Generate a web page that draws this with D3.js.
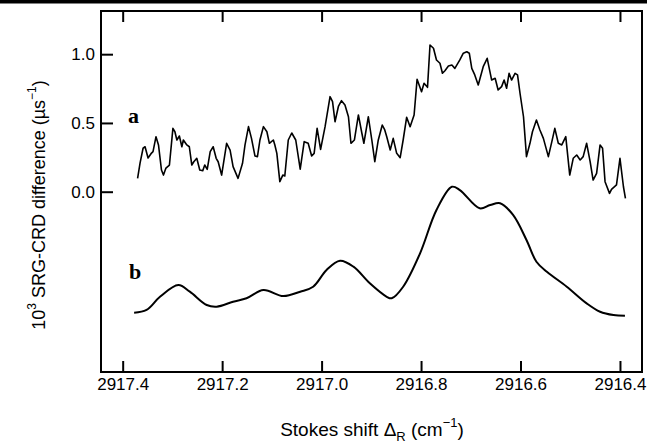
<!DOCTYPE html>
<html><head><meta charset="utf-8">
<script src="https://cdn.jsdelivr.net/npm/d3@7"></script>
<style>body{margin:0;background:#fff}svg{display:block}</style>
</head><body><svg id="c" width="660" height="444"></svg>
<script>
// Trace a (noisy SRG-CRD difference)
const aX = [2917.370,2917.365,2917.359,2917.355,2917.349,2917.342,2917.339,2917.333,2917.328,2917.322,2917.318,2917.313,2917.306,2917.299,2917.295,2917.291,2917.286,2917.281,2917.278,2917.271,2917.266,2917.261,2917.257,2917.251,2917.245,2917.239,2917.235,2917.230,2917.224,2917.218,2917.212,2917.208,2917.201,2917.191,2917.184,2917.178,2917.168,2917.159,2917.154,2917.147,2917.141,2917.134,2917.129,2917.124,2917.117,2917.110,2917.105,2917.097,2917.094,2917.090,2917.084,2917.078,2917.074,2917.067,2917.060,2917.052,2917.043,2917.035,2917.027,2917.020,2917.015,2917.009,2917.002,2916.993,2916.983,2916.978,2916.973,2916.966,2916.960,2916.953,2916.946,2916.941,2916.934,2916.926,2916.919,2916.915,2916.906,2916.899,2916.893,2916.886,2916.878,2916.873,2916.869,2916.862,2916.856,2916.849,2916.842,2916.836,2916.829,2916.822,2916.814,2916.808,2916.799,2916.794,2916.787,2916.782,2916.775,2916.769,2916.762,2916.757,2916.752,2916.745,2916.738,2916.732,2916.722,2916.715,2916.708,2916.703,2916.698,2916.692,2916.685,2916.675,2916.667,2916.658,2916.651,2916.645,2916.638,2916.633,2916.628,2916.623,2916.618,2916.611,2916.606,2916.601,2916.594,2916.588,2916.581,2916.576,2916.568,2916.561,2916.554,2916.544,2916.537,2916.531,2916.524,2916.517,2916.509,2916.501,2916.494,2916.487,2916.480,2916.474,2916.467,2916.460,2916.454,2916.447,2916.440,2916.435,2916.430,2916.421,2916.417,2916.407,2916.400,2916.393,2916.389];
const aY = [0.097,0.209,0.316,0.327,0.245,0.281,0.291,0.400,0.340,0.158,0.121,0.172,0.194,0.461,0.436,0.376,0.405,0.327,0.376,0.340,0.327,0.194,0.218,0.243,0.158,0.153,0.194,0.163,0.291,0.327,0.243,0.218,0.121,0.352,0.303,0.182,0.097,0.207,0.340,0.473,0.388,0.260,0.255,0.376,0.473,0.436,0.352,0.376,0.340,0.279,0.073,0.121,0.114,0.376,0.427,0.376,0.164,0.364,0.352,0.260,0.279,0.461,0.308,0.473,0.691,0.655,0.509,0.623,0.662,0.631,0.545,0.352,0.376,0.558,0.425,0.352,0.545,0.376,0.218,0.376,0.485,0.449,0.400,0.303,0.388,0.279,0.247,0.376,0.541,0.473,0.558,0.817,0.727,0.788,0.759,1.067,1.043,0.958,0.934,0.861,0.880,0.914,0.921,0.897,0.958,1.007,1.018,1.007,0.897,0.849,0.776,0.909,0.970,0.812,0.825,0.740,0.764,0.812,0.752,0.861,0.812,0.861,0.849,0.716,0.545,0.255,0.352,0.436,0.521,0.449,0.388,0.255,0.364,0.461,0.352,0.340,0.400,0.121,0.243,0.267,0.231,0.255,0.352,0.218,0.085,0.134,0.340,0.316,0.073,-0.012,0.017,0.049,0.243,0.036,-0.048];
// Trace b (smooth, offset)
const bX = [2917.377,2917.352,2917.325,2917.288,2917.265,2917.231,2917.211,2917.178,2917.151,2917.117,2917.077,2917.043,2917.017,2916.990,2916.963,2916.936,2916.903,2916.869,2916.859,2916.836,2916.802,2916.769,2916.738,2916.722,2916.682,2916.661,2916.641,2916.615,2916.588,2916.568,2916.547,2916.507,2916.467,2916.440,2916.413,2916.390];
const bY = [-0.880,-0.860,-0.764,-0.679,-0.727,-0.824,-0.836,-0.800,-0.775,-0.715,-0.759,-0.727,-0.691,-0.569,-0.502,-0.545,-0.666,-0.764,-0.775,-0.691,-0.448,-0.133,0.036,0.012,-0.121,-0.097,-0.084,-0.169,-0.351,-0.509,-0.582,-0.691,-0.812,-0.873,-0.897,-0.902];
const xTicks = [2917.4,2917.2,2917.0,2916.8,2916.6,2916.4];
const yTicks = [0.0,0.5,1.0];
const xDomain = [2917.4436,2916.3557];
const yDomain = [-1.311,1.314];

const svg = d3.select("#c");
const L=101,R=642,T=11,B=372;
const x = d3.scaleLinear().domain(xDomain).range([L,R]);
const y = d3.scaleLinear().domain(yDomain).range([B,T]);
const font = "'Liberation Sans', Arial, Helvetica, sans-serif";

svg.append("rect").attr("x",0).attr("y",0).attr("width",647).attr("height",3.5).attr("fill","#000");

const gBottom = svg.append("g").attr("transform",`translate(0,${B})`)
  .call(d3.axisBottom(x).tickValues(xTicks).tickFormat(d3.format(".1f")).tickSizeInner(-11).tickSizeOuter(0).tickPadding(6));
const gTop = svg.append("g").attr("transform",`translate(0,${T})`)
  .call(d3.axisTop(x).tickValues(xTicks).tickFormat("").tickSizeInner(-11).tickSizeOuter(0));
const gLeft = svg.append("g").attr("transform",`translate(${L},0)`)
  .call(d3.axisLeft(y).tickValues(yTicks).tickFormat(d3.format(".1f")).tickSizeInner(-12).tickSizeOuter(0).tickPadding(6));
[gBottom,gTop,gLeft].forEach(g=>{
  g.select(".domain").remove();
  g.selectAll(".tick line").attr("stroke","#000").attr("stroke-width",2);
  g.selectAll(".tick text").attr("font-family",font).attr("font-size",17).attr("fill","#000");
});
svg.append("rect").attr("x",L).attr("y",T).attr("width",R-L).attr("height",B-T)
  .attr("fill","none").attr("stroke","#000").attr("stroke-width",2);

const la = d3.line().x((d,i)=>x(aX[i])).y(d=>y(d));
svg.append("path").datum(aY).attr("d",la).attr("fill","none").attr("stroke","#000").attr("stroke-width",1.6).attr("stroke-linejoin","round");
const lb = d3.line().x((d,i)=>x(bX[i])).y(d=>y(d)).curve(d3.curveCatmullRom.alpha(0.5));
svg.append("path").datum(bY).attr("d",lb).attr("fill","none").attr("stroke","#000").attr("stroke-width",2);

svg.append("text").attr("x",128).attr("y",123).attr("font-family","'Liberation Serif', 'Times New Roman', serif")
  .attr("font-weight","bold").attr("font-size",22).text("a");
svg.append("text").attr("x",129).attr("y",279).attr("font-family","'Liberation Serif', 'Times New Roman', serif")
  .attr("font-weight","bold").attr("font-size",22).text("b");

// x axis title
const xt = svg.append("text").attr("x",372).attr("y",436).attr("text-anchor","middle")
  .attr("font-family",font).attr("font-size",19);
xt.append("tspan").text("Stokes shift Δ");
xt.append("tspan").attr("font-size",13).attr("dy",5).text("R");
xt.append("tspan").attr("dy",-5).text(" (cm");
xt.append("tspan").attr("font-size",13).attr("dy",-9).text("−1");
xt.append("tspan").attr("dy",9).text(")");

// y axis title
const yt = svg.append("text").attr("transform","translate(45,205) rotate(-90)").attr("text-anchor","middle")
  .attr("font-family",font).attr("font-size",18);
yt.append("tspan").text("10");
yt.append("tspan").attr("font-size",12).attr("dy",-9).text("3");
yt.append("tspan").attr("dy",9).text(" SRG-CRD difference (µs");
yt.append("tspan").attr("font-size",12).attr("dy",-9).text("−1");
yt.append("tspan").attr("dy",9).text(")");
</script></body></html>
